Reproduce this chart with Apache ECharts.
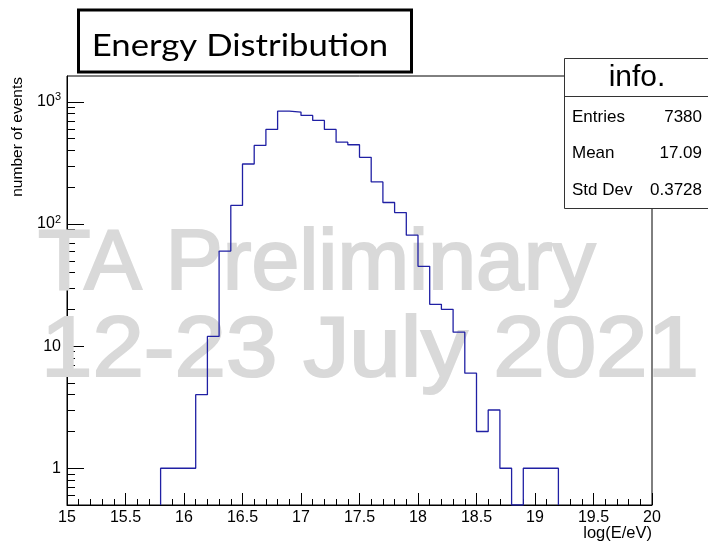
<!DOCTYPE html>
<html>
<head>
<meta charset="utf-8">
<script src="https://cdn.jsdelivr.net/npm/echarts@6.0.0/dist/echarts.min.js"></script>
<style>
  html, body { margin: 0; padding: 0; background: #fff; }
  #chart { width: 708px; height: 542px; }
</style>
</head>
<body>
<div id="chart"></div>
<script>
  // histogram bins: lower/upper edges in log10(E/eV), 0.1 wide
  const binEdges = [15.8, 15.9, 16.0, 16.1, 16.2, 16.3, 16.4, 16.5, 16.6, 16.7,
    16.8, 16.9, 17.0, 17.1, 17.2, 17.3, 17.4, 17.5, 17.6, 17.7,
    17.8, 17.9, 18.0, 18.1, 18.2, 18.3, 18.4, 18.5, 18.6, 18.7,
    18.8, 18.9, 19.0, 19.1, 19.2];
  const counts = [1, 1, 1, 4, 12, 60, 142, 310, 440, 595,
    840, 825, 775, 705, 595, 468, 446, 352, 221, 150,
    124, 81, 45, 22, 20, 13, 6, 2, 3, 1,
    0, 1, 1, 1];

  const yMajorTicks = [1, 10, 100, 1000];
  const yMinorTicks = [0.6, 0.7, 0.8, 0.9, 2, 3, 4, 5, 6, 7, 8, 9,
    20, 30, 40, 50, 60, 70, 80, 90, 200, 300, 400, 500, 600, 700, 800, 900];

  const statsRows = [['Entries', '7380'], ['Mean', '17.09'], ['Std Dev', '0.3728']];

  const yFloor = 0.5;
  const yCeil = 1630;
  const FONT = '"Liberation Sans", Arial, sans-serif';

  // outline of the histogram (empty bins sit on the frame floor)
  const histPoints = [[binEdges[0], yFloor]];
  counts.forEach((c, i) => histPoints.push([binEdges[i], c > 0 ? c : yFloor]));
  const lastBin = counts.length - 1;
  histPoints.push([binEdges[lastBin + 1], counts[lastBin] > 0 ? counts[lastBin] : yFloor]);
  histPoints.push([binEdges[lastBin + 1], yFloor]);

  const chart = echarts.init(document.getElementById('chart'), null, { renderer: 'canvas' });

  const statsText = [];
  statsRows.forEach((r, i) => {
    const y = 117 + i * 36.7;
    statsText.push({
      type: 'text', z: 21, x: 572, y: y,
      style: { text: r[0], font: '17px ' + FONT, fill: '#000', align: 'left', verticalAlign: 'middle' }
    });
    statsText.push({
      type: 'text', z: 21, x: 702, y: y,
      style: { text: r[1], font: '17px ' + FONT, fill: '#000', align: 'right', verticalAlign: 'middle' }
    });
  });

  const option = {
    animation: false,
    backgroundColor: '#fff',
    grid: {
      left: 67, right: 56, top: 76, bottom: 37,
      containLabel: false,
      outerBoundsMode: 'none',
      show: true,
      backgroundColor: '#fff',
      borderColor: '#000',
      borderWidth: 1
    },
    xAxis: {
      type: 'value',
      min: 15, max: 20, interval: 0.5,
      axisLine: { show: true, onZero: false, lineStyle: { color: '#000', width: 1 } },
      axisTick: { show: true, inside: true, length: 12, lineStyle: { color: '#000' } },
      minorTick: { show: true, splitNumber: 5, length: 6, lineStyle: { color: '#000' } },
      axisLabel: {
        show: true, margin: 5, showMinLabel: true, showMaxLabel: true,
        fontFamily: FONT, fontSize: 16, color: '#000'
      },
      splitLine: { show: false },
      minorSplitLine: { show: false }
    },
    yAxis: [
      {
        type: 'log', logBase: 10, min: yFloor, max: yCeil,
        axisLine: { show: true, lineStyle: { color: '#000', width: 1 } },
        axisTick: { show: true, inside: true, length: 17, customValues: yMajorTicks, lineStyle: { color: '#000' } },
        axisLabel: {
          show: true, margin: 6, customValues: yMajorTicks,
          formatter: (v) => {
            const p = Math.round(Math.log10(v));
            return p >= 2 ? '{b|10}{s|' + p + '}' : '{b|' + Math.round(v) + '}';
          },
          rich: {
            b: { fontFamily: FONT, fontSize: 16, color: '#000' },
            s: { fontFamily: FONT, fontSize: 11, color: '#000', padding: [0, 0, 9, 0] }
          }
        },
        splitLine: { show: false }
      },
      {
        type: 'log', logBase: 10, min: yFloor, max: yCeil, position: 'left',
        axisLine: { show: false },
        axisTick: { show: true, inside: true, length: 8, customValues: yMinorTicks, lineStyle: { color: '#000' } },
        axisLabel: { show: false },
        splitLine: { show: false }
      }
    ],
    series: [
      {
        type: 'line',
        data: histPoints,
        step: 'end',
        symbol: 'none',
        yAxisIndex: 0,
        z: 5,
        lineStyle: { color: '#2020a4', width: 1.3 }
      }
    ],
    graphic: [
      // watermark
      {
        type: 'text', z: 1, x: 38, y: 265,
        style: { text: 'TA Preliminary', font: '86px ' + FONT, fill: '#d9d9d9', stroke: '#d9d9d9', lineWidth: 2.2, align: 'left', verticalAlign: 'middle' }
      },
      {
        type: 'text', z: 1, x: 41, y: 352, scaleX: 1.075,
        style: { text: '12-23 July 2021', font: '86px ' + FONT, fill: '#d9d9d9', stroke: '#d9d9d9', lineWidth: 2.2, align: 'left', verticalAlign: 'middle' }
      },
      // title box
      {
        type: 'rect', z: 20,
        shape: { x: 78.5, y: 10, width: 333, height: 62 },
        style: { fill: '#fff', stroke: '#000', lineWidth: 3 }
      },
      {
        type: 'text', z: 21, x: 240, y: 46, scaleX: 1.12,
        style: { text: 'Energy Distribution', font: '31px Lato, "Open Sans", sans-serif', fill: '#000', align: 'center', verticalAlign: 'middle' }
      },
      // stats box
      {
        type: 'rect', z: 20,
        shape: { x: 564.5, y: 58.5, width: 160, height: 150 },
        style: { fill: '#fff', stroke: '#333', lineWidth: 1 }
      },
      {
        type: 'line', z: 21,
        shape: { x1: 564.5, y1: 96.5, x2: 708, y2: 96.5 },
        style: { stroke: '#333', lineWidth: 1 }
      },
      {
        type: 'text', z: 21, x: 637, y: 78,
        style: { text: 'info.', font: '30px ' + FONT, fill: '#000', align: 'center', verticalAlign: 'middle' }
      }
    ].concat(statsText).concat([
      // axis titles
      {
        type: 'text', z: 21, x: 18, y: 77, rotation: Math.PI / 2,
        style: { text: 'number of events', font: '15.5px ' + FONT, fill: '#000', align: 'right', verticalAlign: 'middle' }
      },
      {
        type: 'text', z: 21, x: 652, y: 533,
        style: { text: 'log(E/eV)', font: '16.5px ' + FONT, fill: '#000', align: 'right', verticalAlign: 'middle' }
      }
    ])
  };

  chart.setOption(option);
</script>
</body>
</html>
